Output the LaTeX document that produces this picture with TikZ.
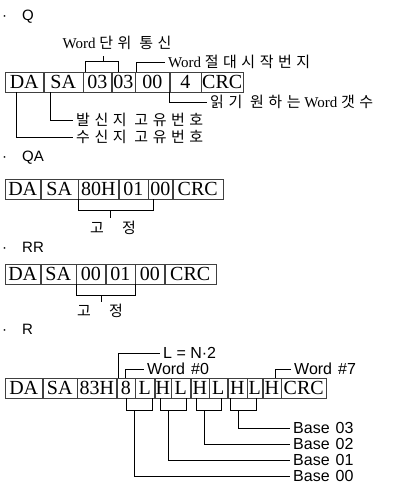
\documentclass[tikz,border=0pt]{standalone}
\usepackage{fontspec}
\setmainfont{Liberation Serif}
\setsansfont{Liberation Sans}
\newfontfamily\hangul[LetterSpace=30]{Noto Sans CJK KR}
\usetikzlibrary{positioning, calc}

\begin{document}
\begin{tikzpicture} [
    x=1pt, y=-1pt,
    cell/.style={rectangle, draw=black!75, line width=0.5pt, minimum height=20pt, inner sep=0pt, anchor=west, font=\fontsize{20pt}{20pt}\selectfont},
    head/.style={anchor=west, inner sep=0pt, font=\sffamily\fontsize{15pt}{15pt}\selectfont},
    note/.style={anchor=west, inner sep=3pt, font=\fontsize{15pt}{15pt}\selectfont},
    tag/.style={anchor=west, inner sep=3pt, font=\sffamily\fontsize{16pt}{16pt}\selectfont},
    link/.style={draw=black, line width=0.6pt}
]
\useasboundingbox (0,0) rectangle (398,492);

% Q frame
\node[head] (hq) at (2,17) {·\hspace{15pt}Q};
\node[cell, minimum width=38pt] (q1) at (5,82) {DA};
\node[cell, minimum width=39pt, right=0pt of q1] (q2) {SA};
\node[cell, minimum width=28pt, right=0pt of q2] (q3) {03};
\node[cell, minimum width=23pt, right=0pt of q3] (q4) {03};
\node[cell, minimum width=34pt, right=0pt of q4] (q5) {00};
\node[cell, minimum width=31pt, right=0pt of q5] (q6) {4};
\node[cell, minimum width=42pt, right=0pt of q6] (q7) {CRC};

\node[note, anchor=center] (wunit) at (117,43) {Word {\hangul 단위 통신}};
\node[note] (wstart) at (165,62) {Word {\hangul 절대시작번지}};
\node[note] (wcount) at (207,102) {{\hangul 읽기 원하는} Word {\hangul 갯수}};
\node[note] (src) at (73,120) {\hangul 발신지 고유번호};
\node[note] (dst) at (73,137) {\hangul 수신지 고유번호};

\draw[link] ([xshift=2pt]q3.north west) -- ++(0,-10) coordinate (qu) -| ([xshift=7pt]q4.north west);
\draw[link] ($(qu)+(18,0)$) -- ++(0,-6);
\draw[link] ([xshift=1pt]q5.north west) |- (wstart.west);
\draw[link] (q6.south west) |- (wcount.west);
\draw[link] ([xshift=7pt]q2.south west) |- (src.west);
\draw[link] ([xshift=11pt]q1.south west) |- (dst.west);

% QA frame
\node[head] (hqa) at (2,158) {·\hspace{15pt}QA};
\node[cell, minimum width=35pt] (qa1) at (5,189) {DA};
\node[cell, minimum width=37pt, right=0pt of qa1] (qa2) {SA};
\node[cell, minimum width=40pt, right=0pt of qa2] (qa3) {80H};
\node[cell, minimum width=29pt, right=0pt of qa3] (qa4) {01};
\node[cell, minimum width=24pt, right=0pt of qa4] (qa5) {00};
\node[cell, minimum width=50pt, right=0pt of qa5] (qa6) {CRC};
\node[note, anchor=center] (fixqa) at (113,228) {\hangul 고\hspace{18pt}정};

\draw[link] (qa3.south west) -- ++(0,11) coordinate (qak) -| ([xshift=5pt]qa4.south east);
\draw[link] ($(qak)+(32,0)$) -- ++(0,8);

% RR frame
\node[head] (hrr) at (2,247) {·\hspace{15pt}RR};
\node[cell, minimum width=35pt] (rr1) at (5,274) {DA};
\node[cell, minimum width=35pt, right=0pt of rr1] (rr2) {SA};
\node[cell, minimum width=29pt, right=0pt of rr2] (rr3) {00};
\node[cell, minimum width=29pt, right=0pt of rr3] (rr4) {01};
\node[cell, minimum width=29pt, right=0pt of rr4] (rr5) {00};
\node[cell, minimum width=51pt, right=0pt of rr5] (rr6) {CRC};
\node[note, anchor=center] (fixrr) at (100,311) {\hangul 고\hspace{18pt}정};

\draw[link] (rr3.south west) -- ++(0,11) coordinate (rrk) -| (rr4.south east);
\draw[link] ($(rrk)+(25,0)$) -- ++(0,7);

% R frame
\node[head] (hr) at (2,329) {·\hspace{15pt}R};
\node[cell, minimum width=37pt] (r1) at (5,388) {DA};
\node[cell, minimum width=34pt, right=0pt of r1] (r2) {SA};
\node[cell, minimum width=39pt, right=0pt of r2] (r3) {83H};
\node[cell, minimum width=18pt, right=0pt of r3] (r4) {8};
\node[cell, minimum width=19pt, right=0pt of r4] (r5) {L};
\node[cell, minimum width=16pt, right=0pt of r5] (r6) {H};
\node[cell, minimum width=19pt, right=0pt of r6] (r7) {L};
\node[cell, minimum width=18pt, right=0pt of r7] (r8) {H};
\node[cell, minimum width=18pt, right=0pt of r8] (r9) {L};
\node[cell, minimum width=19pt, right=0pt of r9] (r10) {H};
\node[cell, minimum width=15pt, right=0pt of r10] (r11) {L};
\node[cell, minimum width=18pt, right=0pt of r11] (r12) {H};
\node[cell, minimum width=45pt, right=0pt of r12] (r13) {CRC};

\node[tag] (lnum) at (160,353) {L = N·2};
\node[tag] (w0) at (144,369) {Word\hspace{6pt}\#0};
\node[tag] (w7) at (291,369) {Word\hspace{6pt}\#7};
\node[tag] (b03) at (290,428) {Base\hspace{6pt}03};
\node[tag] (b02) at (290,444) {Base\hspace{6pt}02};
\node[tag] (b01) at (290,460) {Base\hspace{6pt}01};
\node[tag] (b00) at (290,476) {Base\hspace{6pt}00};

\draw[link] ([xshift=2pt]r4.north west) |- (lnum.west);
\draw[link] ([xshift=9pt]r4.north west) |- (w0.west);
\draw[link] ([xshift=13pt]r12.north west) |- (w7.west);

\draw[link] ([xshift=10pt]r4.south west) -- ++(0,12) coordinate (k0) -| ([xshift=-2pt]r5.south east);
\draw[link] ($(k0)+(8,0)$) |- (b00.west);
\draw[link] ([xshift=6pt]r6.south west) -- ++(0,12) coordinate (k1) -| ([xshift=-4pt]r7.south east);
\draw[link] ($(k1)+(8,0)$) |- (b01.west);
\draw[link] ([xshift=6pt]r8.south west) -- ++(0,12) coordinate (k2) -| ([xshift=-6pt]r9.south east);
\draw[link] ($(k2)+(8,0)$) |- (b02.west);
\draw[link] ([xshift=3pt]r10.south west) -- ++(0,12) coordinate (k3) -| ([xshift=-6pt]r11.south east);
\draw[link] ($(k3)+(8,0)$) |- (b03.west);

\end{tikzpicture}
\end{document}
